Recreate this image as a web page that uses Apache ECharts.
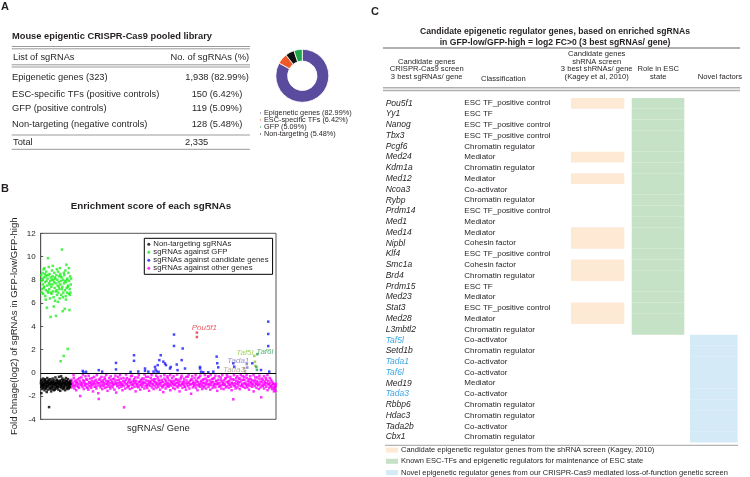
<!DOCTYPE html>
<html><head><meta charset="utf-8">
<script src="https://cdn.jsdelivr.net/npm/echarts@6/dist/echarts.min.js"></script>
<style>html,body{margin:0;padding:0;background:#fff}#c{width:750px;height:477px}</style>
</head><body><div id="c"></div>
<script>
// ---------- Panel A data ----------
const libNames = ['Epigenetic genes', 'ESC-specific TFs', 'GFP', 'Non-targeting'];
const libRowLabels = ['Epigenetic genes (323)', 'ESC-specific TFs (positive controls)', 'GFP (positive controls)', 'Non-targeting (negative controls)'];
const libCounts = [1938, 150, 119, 128];
const libPct = ['82.99', '6.42', '5.09', '5.48'];
const libTotal = 2335;
const libColors = ['#5b4b9e', '#f05a28', '#1fa64a', '#111111'];

// ---------- Panel B data: [sgRNA rank, log2 FC] ----------
const nonTargeting = [[2,-0.9],[4,-0.7],[5,-1.2],[7,-1.75],[8,-0.6],[11,-1.0],[13,-1.05],[14,-1.4],[17,-0.8],[20,-1.1],[22,-1.25],[23,-0.5],[26,-0.95],[29,-1.3],[31,-0.95],[32,-0.7],[35,-1.05],[38,-1.5],[40,-0.55],[41,-0.85],[44,-1.15],[47,-0.65],[49,-1.3],[50,-1.0],[53,-1.35],[56,-0.75],[58,-0.85],[59,-1.2],[60,-1.65],[62,-0.9],[65,-0.45],[67,-1.15],[68,-1.1],[71,-1.45],[74,-0.8],[76,-0.7],[77,-1.0],[80,-0.6],[83,-2.95],[85,-0.95],[86,-1.25],[89,-0.85],[92,-1.05],[94,-1.4],[95,-0.55],[98,-1.3],[101,-0.95],[103,-0.8],[104,-1.6],[107,-0.7],[110,-1.1],[112,-1.25],[113,-0.9],[116,-1.4],[119,-0.5],[121,-0.75],[122,-1.0],[125,-1.2],[128,-0.8],[130,-1.0],[131,-1.5],[134,-0.65],[137,-1.05],[139,-1.45],[140,-0.9],[143,-1.3],[146,-0.4],[148,-0.9],[149,-1.15],[152,-0.85],[155,-1.0],[157,-0.7],[158,-1.35],[161,-0.6],[164,-1.1],[166,-1.2],[167,-0.9],[170,-1.25],[173,-0.7],[175,-0.85],[176,-1.45],[179,-0.95],[182,-0.35],[184,-1.0],[185,-1.2],[188,-0.8],[191,-1.05],[193,-0.75],[194,-1.55],[197,-0.65],[200,-1.0],[202,-1.2],[203,-0.3],[206,-1.3],[209,-0.85],[211,-0.9],[212,-1.1],[215,-0.5],[218,-0.95],[220,-0.65],[221,-1.4],[224,-0.75],[227,-1.15],[229,-1.3],[230,-0.9],[233,-1.25],[236,-0.6],[238,-0.85],[239,-1.0],[242,-1.5],[245,-0.8],[247,-1.0],[248,-1.1],[251,-0.45],[254,-0.95],[256,-0.7],[257,-1.3],[260,-0.7],[263,-1.05],[265,-1.4],[266,-0.9],[269,-1.2],[272,-0.55],[274,-0.85],[275,-1.0],[278,-1.35],[281,-0.8],[283,-1.2],[284,-1.1],[287,-0.95],[290,-1.25],[292,-0.9],[293,-0.7],[296,-1.0]];

const gfpGuides = [[5,8.4],[8,7.9],[10,6.9],[12,8.1],[15,7.2],[18,8.6],[20,8.0],[22,7.6],[25,6.8],[28,8.9],[30,7.3],[32,8.2],[35,7.4],[38,9.0],[40,8.5],[42,7.8],[45,6.6],[48,8.3],[50,6.3],[52,7.1],[55,8.7],[58,7.9],[60,8.4],[62,5.6],[65,7.5],[68,8.1],[70,7.0],[72,9.86],[75,6.9],[78,8.4],[80,9.1],[82,7.7],[85,7.2],[88,8.5],[90,7.6],[92,6.4],[95,7.9],[98,4.8],[100,6.9],[102,8.2],[105,7.4],[108,6.8],[110,8.0],[112,8.8],[115,7.6],[118,8.3],[120,9.2],[122,7.0],[125,8.0],[128,6.5],[130,5.7],[132,7.8],[135,8.6],[138,7.3],[140,8.2],[142,6.2],[145,8.1],[148,7.7],[150,7.0],[152,4.9],[155,8.4],[158,7.1],[160,8.9],[162,6.7],[165,8.0],[168,7.5],[170,6.1],[172,8.7],[175,6.9],[178,7.8],[180,7.4],[182,8.3],[185,7.2],[188,6.4],[190,9.0],[192,8.5],[195,7.6],[198,1.0],[200,8.3],[201,7.9],[204,6.7],[208,8.2],[210,7.2],[211,10.6],[214,7.4],[218,5.3],[220,6.5],[221,8.0],[224,6.9],[228,1.45],[230,8.6],[231,7.7],[234,8.4],[238,5.5],[240,7.9],[241,7.1],[245,8.8],[248,6.6],[250,6.3],[252,7.8],[255,9.3],[258,7.3],[260,8.0],[262,6.9],[265,8.1],[268,2.05],[270,7.4],[272,7.5],[275,8.6],[278,6.8],[280,9.0],[282,7.9],[285,5.4],[288,7.2],[290,6.7],[292,8.3],[295,6.9],[298,7.6],[300,8.1]];

const otherGenes = [[300,-0.95],[306,-0.6],[311,-1.25],[317,-0.85],[323,-1.1],[329,-0.45],[335,-1.35],[340,-0.75],[346,-1.0],[352,-1.5],[358,-0.8],[364,-1.15],
[370,-0.55],[375,-0.95],[381,-1.3],[387,-0.7],[392,-2.0],[398,-1.05],[404,-0.4],[410,-0.9],[415,-1.2],[421,-0.65],[427,-1.4],[433,-0.85],
[438,-1.1],[444,-0.3],[450,-0.95],[456,-1.25],[461,-0.6],[467,-1.0],[473,-1.45],[479,-0.8],[484,-1.15],[490,-0.5],[496,-0.9],[502,-1.3],
[507,-0.7],[513,-1.05],[519,-1.6],[525,-0.85],[530,-0.35],[536,-1.2],[542,-0.95],[548,-0.6],[553,-1.35],[559,-0.8],[565,-1.1],[571,-1.76],
[576,-2.25],[582,-0.9],[588,-0.5],[594,-1.25],[599,-0.75],[605,-1.0],[611,-1.4],[617,-0.65],[622,-1.15],[628,-0.85],[634,-0.4],[640,-1.3],
[645,-0.95],[651,-0.7],[657,-1.2],[663,-1.55],[668,-0.8],[674,-1.05],[680,-0.45],[686,-0.9],[691,-1.35],[697,-0.6],[703,-1.1],[709,-0.85],
[714,-1.25],[720,-0.55],[726,-1.0],[732,-1.45],[737,-0.75],[743,-0.95],[749,-1.7],[755,-0.65],[760,-1.15],[766,-0.35],[772,-0.9],[778,-1.3],
[783,-0.8],[789,-1.05],[795,-0.5],[801,-1.2],[806,-0.95],[812,-1.5],[818,-0.7],[824,-1.1],[827,-2.97],[833,-0.85],[839,-1.35],[845,-0.6],
[850,-1.0],[856,-0.45],[862,-1.25],[868,-0.8],[873,-1.15],[879,-0.65],[885,-1.4],[891,-0.9],[896,-0.3],[902,-1.05],[908,-1.3],[914,-0.75],
[919,-1.0],[925,-0.55],[931,-1.2],[937,-0.85],[942,-1.6],[948,-0.7],[954,-1.1],[960,-0.95],[965,-0.4],[971,-1.25],[977,-0.8],[983,-1.05],
[988,-1.45],[994,-0.6],[1000,-0.9],[1006,-1.2],[1011,-0.75],[1017,-1.0],[1023,-0.5],[1029,-1.35],[1034,-0.85],[1040,-1.15],[1046,-0.35],[1052,-0.95],
[1057,-1.3],[1063,-0.7],[1069,-1.05],[1075,-1.55],[1080,-0.8],[1086,-1.1],[1092,-0.45],[1098,-0.9],[1103,-1.25],[1109,-0.65],[1115,-1.0],[1121,-1.4],
[1126,-0.75],[1132,-1.15],[1138,-0.55],[1144,-0.95],[1149,-1.3],[1155,-0.85],[1161,-0.4],[1167,-1.2],[1172,-1.0],[1178,-0.7],[1184,-1.45],[1190,-0.9],
[1195,-1.1],[1201,-0.6],[1207,-1.25],[1213,-0.8],[1216,-1.66],[1222,-1.05],[1228,-0.5],[1234,-0.95],[1240,-1.35],[1246,-0.75],[1251,-1.15],[1257,-0.3],
[1263,-0.9],[1269,-1.2],[1274,-0.65],[1280,-1.0],[1286,-1.5],[1292,-0.8],[1297,-1.1],[1303,-0.45],[1309,-0.95],[1315,-1.3],[1320,-0.7],[1326,-1.05],
[1332,-1.4],[1338,-0.85],[1343,-0.55],[1349,-1.15],[1355,-0.9],[1361,-1.25],[1366,-0.6],[1372,-1.0],[1378,-1.6],[1384,-0.75],[1389,-1.1],[1395,-0.4],
[1401,-0.95],[1407,-1.3],[1412,-0.8],[1418,-1.05],[1424,-0.5],[1430,-1.2],[1435,-0.9],[1441,-1.45],[1447,-0.65],[1453,-1.0],[1458,-0.35],[1464,-1.15],
[1470,-0.85],[1476,-1.35],[1481,-0.7],[1487,-1.0],[1493,-1.8],[1499,-0.55],[1504,-0.95],[1510,-1.25],[1516,-0.75],[1522,-1.1],[1527,-0.45],[1533,-0.9],
[1539,-1.3],[1545,-0.65],[1550,-1.05],[1556,-1.5],[1562,-0.8],[1568,-1.15],[1573,-0.4],[1579,-0.95],[1585,-1.2],[1591,-0.7],[1596,-1.0],[1602,-1.4],
[1608,-0.6],[1614,-0.9],[1619,-1.25],[1625,-0.85],[1631,-1.1],[1637,-0.5],[1642,-1.35],[1648,-0.75],[1654,-1.0],[1660,-0.3],[1665,-1.2],[1671,-0.95],
[1677,-0.65],[1683,-1.45],[1688,-0.85],[1694,-1.05],[1700,-0.55],[1706,-1.3],[1711,-0.8],[1717,-1.15],[1723,-0.45],[1729,-0.95],[1734,-1.25],[1740,-0.7],
[1746,-1.0],[1752,-1.55],[1757,-0.9],[1763,-0.6],[1769,-1.2],[1775,-0.85],[1780,-1.1],[1786,-0.4],[1792,-1.35],[1798,-0.75],[1803,-1.05],[1809,-0.95],
[1815,-1.4],[1821,-0.65],[1826,-1.0],[1832,-0.5],[1838,-1.25],[1844,-0.8],[1849,-1.15],[1855,-0.35],[1861,-0.9],[1867,-1.3],[1872,-0.7],[1878,-1.05],
[1884,-0.55],[1890,-1.2],[1895,-1.5],[1901,-0.85],[1907,-1.0],[1911,-2.28],[1917,-0.6],[1923,-1.1],[1929,-0.9],[1934,-1.35],[1940,-0.45],[1946,-0.95],
[1952,-1.25],[1958,-0.75],[1963,-1.05],[1969,-0.5],[1975,-1.4],[1981,-0.8],[1986,-1.15],[1992,-0.65],[1998,-1.0],[2004,-0.3],[2009,-1.2],[2015,-0.9],
[2021,-0.6],[2027,-1.3],[2032,-0.85],[2038,-1.05],[2044,-0.45],[2050,-1.25],[2055,-0.7],[2061,-0.95],[2067,-1.45],[2073,-0.8],[2078,-1.1],[2084,-0.55],
[2090,-0.9],[2096,-1.2],[2101,-0.65],[2107,-1.0],[2113,-1.6],[2119,-0.75],[2124,-1.15],[2130,-0.4],[2136,-0.95],[2142,-1.3],[2147,-0.7],[2153,-1.05],
[2159,-0.85],[2165,-1.4],[2170,-0.5],[2176,-1.0],[2182,-1.25],[2188,-2.11],[2193,-0.8],[2199,-1.1],[2205,-0.6],[2211,-0.95],[2216,-1.35],[2222,-0.75],
[2228,-1.05],[2234,-0.45],[2239,-1.2],[2245,-0.9],[2251,-1.5],[2257,-0.7],[2262,-1.0],[2268,-1.3],[2274,-0.85],[2280,-1.15],[2285,-0.6],[2291,-1.05],
[2297,-1.4],[2303,-0.9],[2308,-1.25],[2314,-1.6],[2318,-1.0],[2322,-1.35],[2326,-1.2],[2330,-1.55],[2333,-0.95],
[303,-0.75],[314,-1.0],[326,-0.2],[338,-1.15],[349,-0.65],[361,-0.9],[373,-1.2],[384,-0.45],[396,-0.85],[407,-1.05],[419,-0.15],[430,-0.7],
[442,-1.0],[453,-0.55],[465,-1.3],[476,-0.25],[488,-0.85],[499,-1.1],[511,-0.45],[522,-0.95],[534,-0.7],[545,-1.2],[557,-0.2],[568,-0.9],
[580,-0.6],[591,-1.1],[603,-0.35],[614,-0.8],[626,-1.05],[637,-0.55],[649,-0.2],[660,-0.95],[672,-0.7],[683,-1.2],[695,-0.3],[706,-0.8],
[718,-1.0],[729,-0.5],[741,-0.25],[752,-0.9],[764,-1.1],[775,-0.6],[787,-0.2],[798,-0.85],[810,-1.05],[821,-0.45],[836,-0.75],[847,-0.15],
[859,-0.95],[870,-1.15],[882,-0.55],[893,-0.8],[905,-0.25],[916,-1.0],[928,-0.7],[939,-0.4],[951,-0.95],[962,-1.2],[974,-0.2],[985,-0.75],
[997,-1.05],[1008,-0.5],[1020,-0.85],[1031,-0.15],[1043,-0.65],[1054,-1.1],[1066,-0.35],[1077,-0.9],[1089,-0.7],[1100,-0.2],[1112,-1.0],[1123,-0.55],
[1135,-0.8],[1146,-0.25],[1158,-1.05],[1169,-0.6],[1181,-0.9],[1192,-0.3],[1204,-0.75],[1215,-1.15],[1227,-0.2],[1238,-0.65],[1250,-0.95],[1261,-0.45],
[1273,-1.1],[1284,-0.2],[1296,-0.7],[1307,-0.85],[1319,-0.3],[1330,-1.0],[1342,-0.6],[1353,-0.15],[1365,-0.8],[1376,-1.05],[1388,-0.5],[1399,-0.25],
[1411,-0.95],[1422,-0.7],[1434,-1.2],[1445,-0.35],[1457,-0.85],[1468,-0.2],[1480,-1.0],[1491,-0.6],[1503,-0.3],[1514,-0.9],[1526,-1.1],[1537,-0.2],
[1549,-0.75],[1560,-0.45],[1572,-1.0],[1583,-0.25],[1595,-0.8],[1606,-1.15],[1618,-0.55],[1629,-0.2],[1641,-0.95],[1652,-0.65],[1664,-0.35],[1675,-1.05],
[1687,-0.2],[1698,-0.8],[1710,-0.5],[1721,-1.0],[1733,-0.25],[1744,-0.7],[1756,-0.95],[1767,-0.3],[1779,-1.1],[1790,-0.6],[1802,-0.2],[1813,-0.85],
[1825,-1.05],[1836,-0.45],[1848,-0.2],[1859,-0.75],[1871,-1.0],[1882,-0.35],[1894,-0.9],[1905,-0.55],[1917,-0.2],[1928,-1.15],[1940,-0.7],[1951,-0.3],
[1963,-0.85],[1974,-0.5],[1986,-0.2],[1997,-1.05],[2009,-0.6],[2020,-0.35],[2032,-0.95],[2043,-0.2],[2055,-1.1],[2066,-0.55],[2078,-0.3],[2089,-0.8],
[2101,-1.0],[2112,-0.2],[2124,-0.65],[2135,-0.9],[2147,-0.4],[2158,-1.05],[2170,-0.25],[2181,-0.75],[2193,-0.5],[2204,-1.15],[2216,-0.3],[2227,-0.85],
[2239,-0.6],[2250,-0.2],[2262,-1.0],[2273,-0.45],[2285,-1.2],[2296,-0.75],[2308,-0.95],[2319,-1.4],[2331,-1.15]];

const candidateGenes = [[417,0.16],[424,0.04],[450,0.09],[576,0.23],[610,0.1],[747,0.85],[747,0.29],[892,0.08],[926,1.51],[926,1.03],[968,0.11],[1035,0.37],[1035,0.17],[1068,0.1],[1120,0.1],[1134,0.51],[1140,0.29],[1150,0.12],[1161,0.66],[1170,0.08],[1177,1.09],[1191,1.51],[1217,0.96],[1233,0.8],[1243,0.66],[1283,0.37],[1290,0.5],[1323,3.29],[1323,2.31],[1350,0.71],[1358,0.23],[1399,1.09],[1409,2.09],[1432,0.37],[1581,0.5],[1581,0.37],[1591,0.1],[1613,0.05],[1663,0.05],[1713,0.1],[1746,1.39],[1752,0.82],[1762,0.47],[1911,0.82],[1920,0.53],[2100,0.82],[2186,0.24],[2258,4.4],[2258,3.34],[2258,2.3],[2268,0.1]];

const pou5f1Pts = [[1550,3.46],[1550,3.08]];
const taf5lPts = [[2120,1.45],[2126,0.95],[2130,0.6]];
const taf6lPts = [[2140,0.5],[2146,0.25],[2150,1.6]];
const tada1Pts = [[2045,0.75],[2050,0.45]];
const tada3Pts = [[2020,0.4],[2028,0.12]];
const geneLabels = [
  {name: 'Pou5f1', value: [1498, 3.89], color: '#e8323c'},
  {name: 'Taf5l', value: [1941, 1.71], color: '#8dc63f'},
  {name: 'Taf6l', value: [2139, 1.8], color: '#2e9d52'},
  {name: 'Tada1', value: [1852, 1.0], color: '#7e76b8'},
  {name: 'Tada3', value: [1809, 0.29], color: '#a39c80'}
];
const yTicks = {min: -4, max: 12, step: 2};

// ---------- Panel C data ----------
const genes = ['Pou5f1','Yy1','Nanog','Tbx3','Pcgf6','Med24','Kdm1a','Med12','Ncoa3','Rybp','Prdm14','Med1','Med14','Nipbl','Klf4','Smc1a','Brd4','Prdm15','Med23','Stat3','Med28','L3mbtl2','Taf5l','Setd1b','Tada1','Taf6l','Med19','Tada3','Rbbp6','Hdac3','Tada2b','Cbx1'];
const classes = ['ESC TF_positive control','ESC TF','ESC TF_positive control','ESC TF_positive control','Chromatin regulator','Mediator','Chromatin regulator','Mediator','Co-activator','Chromatin regulator','ESC TF_positive control','Mediator','Mediator','Cohesin factor','ESC TF_positive control','Cohesin factor','Chromatin regulator','ESC TF','Mediator','ESC TF_positive control','Mediator','Chromatin regulator','Co-activator','Chromatin regulator','Co-activator','Co-activator','Mediator','Co-activator','Chromatin regulator','Chromatin regulator','Co-activator','Chromatin regulator'];
const blueNamed = ['Taf5l','Tada1','Taf6l','Tada3'];
const shRNAHits = ['Pou5f1','Med24','Med12','Med14','Nipbl','Smc1a','Brd4','Stat3','Med28'];
const escRole = genes.slice(0, 22);
const novelFactors = genes.slice(22);
const legendC = ['Candidate epigenetic regulator genes from the shRNA screen (Kagey, 2010)','Known ESC-TFs and epigenetic regulators for maintenance of ESC state','Novel epigenetic regulator genes from our CRISPR-Cas9 mediated loss-of-function genetic screen'];

// ---------- build ----------
const FONT = '"Liberation Sans", Arial, Helvetica, sans-serif';
const INK = '#231f20';
function T(text, x, y, o) { return {type:'text', x:x, y:y, silent:true, z:10, style:Object.assign({text:text, fill:INK, fontFamily:FONT, fontSize:9.3, align:'left', verticalAlign:'middle'}, o||{})}; }
function L(x1,y1,x2,y2,c,w) { return {type:'line', silent:true, z:10, shape:{x1:x1,y1:y1,x2:x2,y2:y2}, style:{stroke:c, lineWidth:w}}; }
const fmt = n => n.toLocaleString('en-US');

const g = [];
g.push(T('A', 1, 7, {fontWeight:'bold', fontSize:11}));
g.push(T('B', 1, 189, {fontWeight:'bold', fontSize:11}));
g.push(T('C', 371, 12, {fontWeight:'bold', fontSize:11}));
// Table A
g.push(T('Mouse epigentic CRISPR-Cas9 pooled library', 12, 36.7, {fontWeight:'bold', fontSize:9.3}));
g.push(L(11.7,46.5,250,46.5,'#9a9a9a',1), L(11.7,48.8,250,48.8,'#9a9a9a',1));
g.push(T('List of sgRNAs', 13, 57.3));
g.push(T('No. of sgRNAs (%)', 249, 57.3, {align:'right'}));
g.push(L(11.7,64.8,250,64.8,'#9a9a9a',1), L(11.7,67,250,67,'#9a9a9a',1));
const rowY = [77.7, 94, 108.3, 124];
libRowLabels.forEach((lab, i) => {
  g.push(T(lab, 12, rowY[i]));
  g.push(T(fmt(libCounts[i]) + ' (' + libPct[i] + '%)', 217, rowY[i], {align:'center'}));
});
g.push(L(11.7,135,250,135,'#9a9a9a',1));
g.push(T('Total', 13, 142.3));
g.push(T(fmt(libTotal), 185, 142.3));
g.push(L(11.7,149.3,250,149.3,'#9a9a9a',1));
// Panel B title
g.push(T('Enrichment score of each sgRNAs', 151, 206, {align:'center', fontWeight:'bold', fontSize:9.8}));
// Panel C title and header
g.push(T('Candidate epigenetic regulator genes, based on enriched sgRNAs', 555, 31.7, {align:'center', fontWeight:'bold', fontSize:8.6}));
g.push(T('in GFP-low/GFP-high = log2 FC>0 (3 best sgRNAs/ gene)', 555, 42.3, {align:'center', fontWeight:'bold', fontSize:8.6}));
g.push(L(383,48,740,48,'#b0b0b0',2));
const hs = {align:'center', fontSize:7.6};
const hy = [54.3, 61.8, 69.3, 76.8];
[['Candidate genes',1],['CRISPR-Cas9 screen',2],['3 best sgRNAs/ gene',3]].forEach(a => g.push(T(a[0], 426.7, hy[a[1]], hs)));
g.push(T('Classification', 503.3, 78.8, hs));
[['Candidate genes',0],['shRNA screen',1],['3 best shRNAs/ gene',2],['(Kagey et al, 2010)',3]].forEach(a => g.push(T(a[0], 596.7, hy[a[1]], hs)));
g.push(T('Role in ESC', 658.3, hy[2], hs), T('state', 658.3, hy[3], hs));
g.push(T('Novel factors', 720, hy[3], hs));
g.push(L(383,87.8,740,87.8,'#b0b0b0',1.5), L(383,90.5,740,90.5,'#b0b0b0',1.5));
g.push(L(385,445.3,738,445.3,'#a0a0a0',1));

const chart = echarts.init(document.getElementById('c'), null, {renderer:'canvas'});
const rowTop = 97.9, rowH = 344.6;
const barColors = ['#fde9d4', '#c5e2c6', '#d4eaf7'];
const flagData = list => genes.map(gn => list.includes(gn) ? 1 : '-');
const scat = (name, data, color, extra) => Object.assign({type:'scatter', name:name, xAxisIndex:0, yAxisIndex:0, data:data, symbol:'rect', symbolSize:2.5, itemStyle:{color:color}, silent:true, animation:false}, extra||{});

const option = {
  animation: false,
  textStyle: {fontFamily: FONT},
  graphic: g,
  grid: [
    {left:40.7, top:233.3, width:235.3, height:186, show:true, borderColor:'#555', borderWidth:1, backgroundColor:'#fff'},
    {left:571, top:rowTop, width:53.3, height:rowH},
    {left:631.7, top:rowTop, width:52.6, height:rowH},
    {left:690, top:rowTop, width:47.7, height:rowH}
  ],
  xAxis: [
    {gridIndex:0, type:'value', min:0, max:2335, axisLine:{show:false}, axisTick:{show:false}, axisLabel:{show:false}, splitLine:{show:false},
     name:'sgRNAs/ Gene', nameLocation:'middle', nameGap:5, nameTextStyle:{fontSize:9.4, color:INK, verticalAlign:'top'}},
    {gridIndex:1, type:'value', min:0, max:1, show:false},
    {gridIndex:2, type:'value', min:0, max:1, show:false},
    {gridIndex:3, type:'value', min:0, max:1, show:false}
  ],
  yAxis: [
    {gridIndex:0, type:'value', min:yTicks.min, max:yTicks.max, interval:yTicks.step,
     axisLine:{show:true, lineStyle:{color:'#555'}}, axisTick:{show:true, inside:true, length:2.5, lineStyle:{color:'#555'}},
     axisLabel:{fontSize:8, color:INK, margin:5}, splitLine:{show:false},
     name:'Fold chnage(log2) of sgRNAs in GFP-low/GFP-high', nameLocation:'middle', nameGap:21, nameTextStyle:{fontSize:9.5, color:INK}},
    {gridIndex:1, type:'category', data:genes, inverse:true, position:'left', axisLine:{show:false}, axisTick:{show:false},
     axisLabel:{interval:0, align:'left', margin:185.3, fontSize:8.5, fontStyle:'italic', color:INK,
       formatter: v => blueNamed.includes(v) ? '{n|' + v + '}' : '{g|' + v + '}',
       rich:{g:{fontStyle:'italic', fontSize:8.5, color:INK, fontFamily:FONT}, n:{fontStyle:'italic', fontSize:8.5, color:'#3aa7e6', fontFamily:FONT}}}},
    {gridIndex:1, type:'category', data:genes, inverse:true, position:'left', offset:0, axisLine:{show:false}, axisTick:{show:false},
     axisLabel:{interval:0, align:'left', margin:106.7, fontSize:8, color:INK, formatter:(v, i) => classes[i]}},
    {gridIndex:2, type:'category', data:genes, inverse:true, show:false},
    {gridIndex:3, type:'category', data:genes, inverse:true, show:false}
  ],
  legend: [
    {data: libNames.map((n,i) => n + ' (' + libPct[i] + '%)'), orient:'vertical', left:258, top:109.5, padding:0,
     itemWidth:3, itemHeight:3, itemGap:0, icon:'rect', selectedMode:false,
     textStyle:{fontSize:7.3, lineHeight:5.4, color:INK, padding:[0,0,0,-3]}},
    {data:['Non-targeting sgRNAs','sgRNAs against GFP','sgRNAs against candidate genes','sgRNAs against other genes'], orient:'vertical',
     left:144.3, top:238.3, padding:[2,4,2,3], borderColor:'#000', borderWidth:1, backgroundColor:'#fff',
     itemWidth:3, itemHeight:3, itemGap:0, icon:'circle', selectedMode:false,
     textStyle:{fontSize:7.8, lineHeight:6.8, color:INK, padding:[0,0,0,-2]}},
    {data: legendC, orient:'vertical', left:386, top:446, padding:0, itemWidth:12, itemHeight:5, itemGap:3.3, icon:'rect', selectedMode:false,
     textStyle:{fontSize:7.5, lineHeight:8, color:INK, padding:[0,0,0,-2]}}
  ],
  series: [
    {type:'pie', name:'library', center:[302.3, 75.8], radius:[14.7, 26.5], startAngle:90, clockwise:true, silent:true,
     label:{show:false}, labelLine:{show:false}, itemStyle:{borderColor:'#fff', borderWidth:0.8},
     data: [0,1,3,2].map(i => ({name: libNames[i] + ' (' + libPct[i] + '%)', value: libCounts[i], itemStyle:{color: libColors[i]}}))},
    scat('sgRNAs against other genes', otherGenes, '#ff00ff', {markLine:{silent:true, symbol:['none','none'], label:{show:false}, lineStyle:{color:'#000', width:1, type:'solid'}, data:[{yAxis:0}], animation:false}}),
    scat('Non-targeting sgRNAs', nonTargeting, '#000000'),
    scat('sgRNAs against GFP', gfpGuides, '#22ee22'),
    scat('sgRNAs against candidate genes', candidateGenes, '#1a1aff'),
    scat('Pou5f1', pou5f1Pts, '#e8323c'),
    scat('Taf5l', taf5lPts, '#8dc63f'),
    scat('Taf6l', taf6lPts, '#2e9d52'),
    scat('Tada1', tada1Pts, '#7e76b8'),
    scat('Tada3', tada3Pts, '#a39c80'),
    {type:'scatter', name:'labels', xAxisIndex:0, yAxisIndex:0, symbolSize:0, silent:true,
     data: geneLabels.map(d => ({name:d.name, value:d.value, label:{color:d.color}})),
     label:{show:true, position:'right', distance:0, formatter:'{b}', fontSize:8, fontStyle:'italic', fontFamily:FONT}},
    {type:'bar', name:legendC[0], xAxisIndex:1, yAxisIndex:1, data:flagData(shRNAHits), barWidth:'100%', itemStyle:{color:barColors[0]}, silent:true},
    {type:'bar', name:legendC[1], xAxisIndex:2, yAxisIndex:3, data:flagData(escRole), barWidth:'100%', itemStyle:{color:barColors[1]}, silent:true},
    {type:'bar', name:legendC[2], xAxisIndex:3, yAxisIndex:4, data:flagData(novelFactors), barWidth:'100%', itemStyle:{color:barColors[2]}, silent:true}
  ]
};
chart.setOption(option);
</script></body></html>
